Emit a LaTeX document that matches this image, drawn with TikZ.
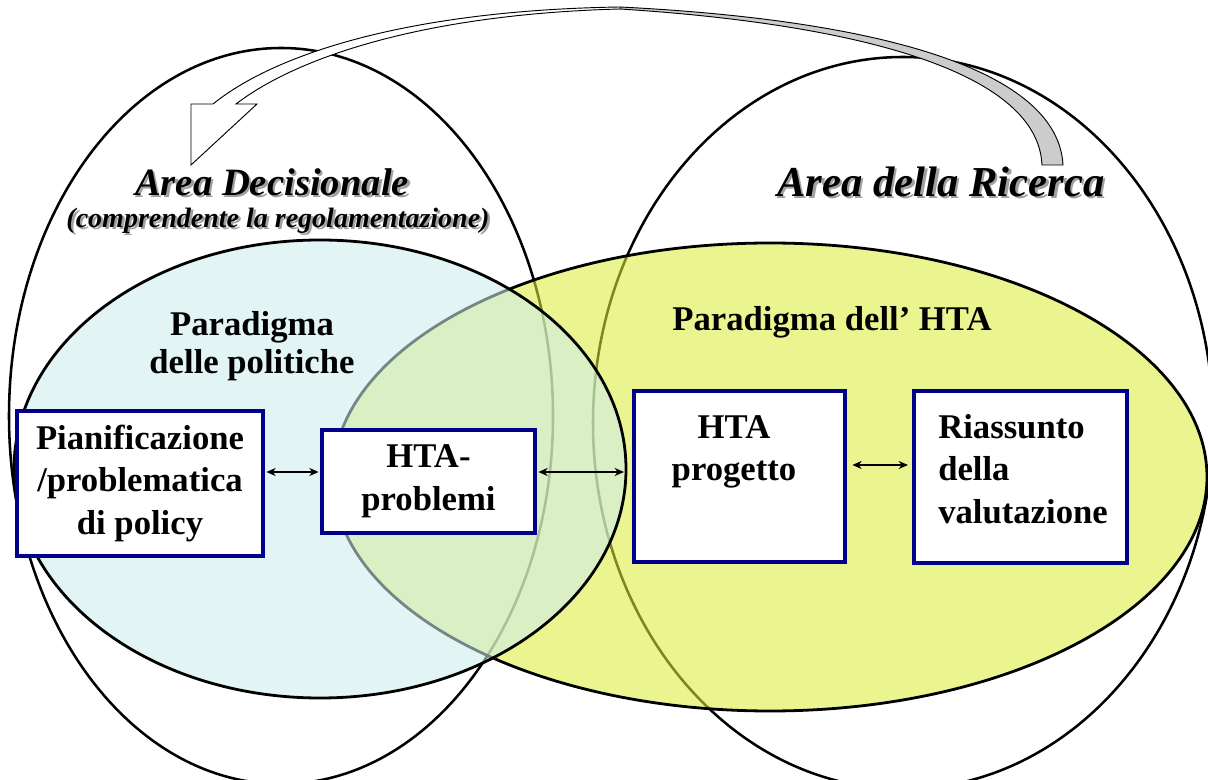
\documentclass[tikz,border=0pt]{standalone}
\usepackage{fontspec}
\setmainfont{Liberation Serif}
\usetikzlibrary{arrows.meta}

\definecolor{policyfill}{RGB}{206,236,236}
\definecolor{htafill}{RGB}{220,238,60}
\definecolor{boxnavy}{RGB}{0,0,140}
\definecolor{titleshadow}{RGB}{160,160,160}
\definecolor{ribbongrey}{RGB}{204,204,204}

\newcommand{\shadowed}[1]{\makebox[0pt][l]{\kern1.8pt\raisebox{-1.8pt}{\color{titleshadow}#1}}#1}

\tikzset{
  areaoutline/.style={line width=1.9pt},
  paradigmfill/.style={line width=2.1pt, fill opacity=0.57},
  stepbox/.style={draw=boxnavy, line width=3pt, fill=white, inner sep=0pt, align=center,
    font=\fontsize{26}{32}\selectfont\bfseries},
  boxtext/.style={inner sep=0pt, font=\fontsize{26}{32}\selectfont\bfseries},
  paradigmlabel/.style={align=center, font=\fontsize{26}{29}\selectfont\bfseries},
  twoway/.style={{Stealth[length=7pt,width=6pt]}-{Stealth[length=7pt,width=6pt]}, line width=1.5pt},
}

\begin{document}
\begin{tikzpicture}[x=0.75pt,y=0.75pt,yscale=-1,xscale=1]
\useasboundingbox (0,0) rectangle (1208,780);
\fill[white] (0,0) rectangle (1208,780);

%Shape: Ellipse (area decisionale)
\draw [areaoutline] (281,416) ellipse [x radius=272, y radius=368];
%Shape: Ellipse (area della ricerca)
\draw [areaoutline] (903,423) ellipse [x radius=310, y radius=366];

%Shape: Ellipse (paradigma HTA)
\draw [paradigmfill, fill=htafill] (770,477) ellipse [x radius=437, y radius=234];
%Shape: Ellipse (paradigma politiche)
\draw [paradigmfill, fill=policyfill] (320,469) ellipse [x radius=306, y radius=229];

% Boxes
\node [stepbox, minimum width=184.5pt, minimum height=108.75pt] (pianif) at (140,483.5)
  {Pianificazione\\/problematica\\di policy};
\node [stepbox, minimum width=159.75pt, minimum height=77.25pt] (htaprob) at (428.5,481.5)
  {HTA-\\problemi};
\node [stepbox, minimum width=158.25pt, minimum height=128.25pt] (progetto) at (739.5,476.5) {};
\node [boxtext, align=center] (progettotxt) at (734,452) {HTA\\progetto};
\node [stepbox, minimum width=159.75pt, minimum height=129pt] (riassunto) at (1020.5,477) {};
\node [boxtext, align=left] (riassuntotxt) at (1023,469) {Riassunto\\della\\valutazione};

% Connectors
\coordinate (arrowrow) at (0,472);
\coordinate (policyedge) at (624,472);
\coordinate (evalrow) at (0,465);
\draw [twoway, shorten <=1pt, shorten >=1pt] (pianif.east |- arrowrow) -- (htaprob.west |- arrowrow);
\draw [twoway, shorten <=1pt] (htaprob.east |- arrowrow) -- (policyedge);
\draw [twoway, shorten <=4pt, shorten >=3pt] (progetto.east |- evalrow) -- (riassunto.west |- evalrow);

% Text Node
\node [paradigmlabel] (politiche) at (252,346) {Paradigma\\delle politiche};
% Text Node
\node [paradigmlabel] (paradigmhta) at (832,322) {Paradigma dell’ HTA};

% Text Node (titles with shadow)
\node [font=\fontsize{29}{34}\selectfont\bfseries\itshape] (decisionale) at (272,183) {\shadowed{Area Decisionale}};
\node [font=\fontsize{21}{25}\selectfont\bfseries\itshape] (regolamentazione) at (278,222) {\shadowed{(comprendente la regolamentazione)}};
\node [font=\fontsize{32}{38}\selectfont\bfseries\itshape] (ricerca) at (941,183) {\shadowed{Area della Ricerca}};

%Curved block arrow, grey face
\draw [fill=ribbongrey, line width=0.7pt] (1063,165) .. controls (1058,70) and (880,20) .. (620,7)
  -- (620,9) .. controls (870,25) and (1038,75) .. (1042,165) -- cycle;
%Curved block arrow, white face with head
\draw [fill=white, line width=0.7pt] (620,7) .. controls (420,10) and (280,50) .. (213,104)
  -- (191,104) -- (191,165) -- (257,104) -- (236,104)
  .. controls (300,55) and (430,14) .. (620,9) -- cycle;

\end{tikzpicture}
\end{document}
